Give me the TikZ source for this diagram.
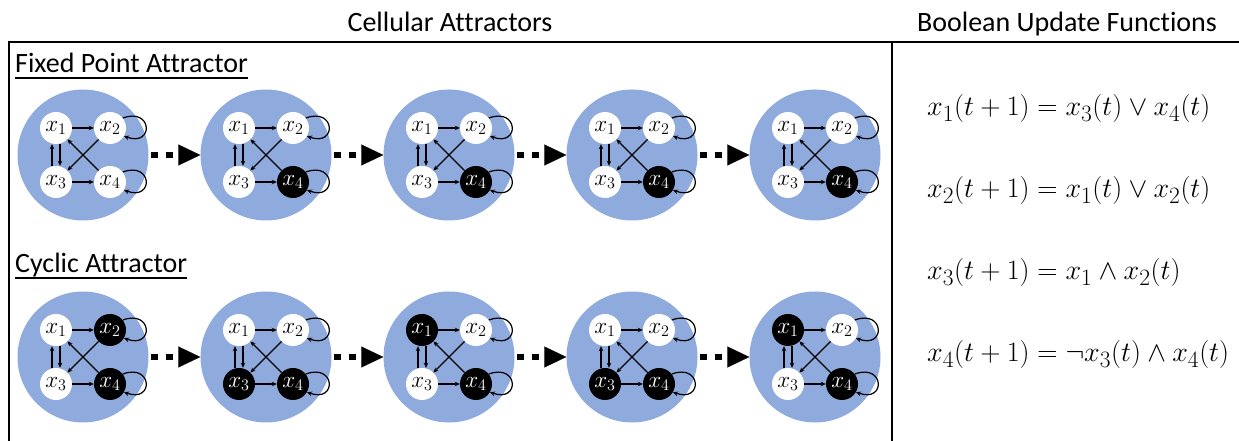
\documentclass[tikz,border=0pt]{standalone}
\usepackage{graphicx}
\usepackage{fontspec}
\setmainfont[Ligatures={NoCommon}]{Carlito}
\usetikzlibrary{arrows.meta}
\definecolor{cellblue}{RGB}{143,170,220}
\newcommand\eqbox[1]{\scalebox{1.13}{$#1$}}
\newcommand\lbl[1]{\scalebox{1.12}{$#1$}}
\newcommand\cellnet[7]{%
 \node[cell] (#1) at (#2,#3) {};
 \node[#4] (#1a) at (#2-27,#3+27) {\lbl{x_1}};
 \node[#5] (#1b) at (#2+27,#3+27) {\lbl{x_2}};
 \node[#6] (#1c) at (#2-27,#3-27) {\lbl{x_3}};
 \node[#7] (#1d) at (#2+27,#3-27) {\lbl{x_4}};
 \draw[arr] (#1a) -- (#1b);
 \draw[arr] (#1c) -- (#1d);
 \draw[arr] ([xshift=-4pt]#1c.north) -- ([xshift=-4pt]#1a.south);
 \draw[arr] ([xshift=4pt]#1a.south) -- ([xshift=4pt]#1c.north);
 \draw[arr] (#1b) -- (#1c);
 \draw[arr] (#1d) -- (#1a);
 \draw[arr] (#1b.38) .. controls +(30,11) and +(30,-11) .. (#1b.-30);
 \draw[arr] (#1d.38) .. controls +(30,11) and +(30,-11) .. (#1d.-30);
}
\begin{document}
\begin{tikzpicture}[x=1pt,y=1pt,
 cell/.style={circle,fill=cellblue,minimum size=131pt,inner sep=0pt},
 wn/.style={circle,fill=white,minimum size=32pt,inner sep=0pt,font=\fontsize{20.74}{22}\selectfont},
 bn/.style={wn,fill=black,text=white},
 arr/.style={line width=1.2pt,-{Stealth[length=5pt,width=4.5pt]}},
 dotarr/.style={line width=6pt,dash pattern=on 0pt off 2pt on 7pt off 8pt on 7pt off 40pt,
   -{Triangle[length=22pt,width=21pt,line width=0.1pt]}},
 frame/.style={line width=2pt},
 title/.style={font=\fontsize{28}{32}\selectfont,inner sep=0pt,anchor=base},
 sub/.style={font=\fontsize{28}{32}\selectfont,inner sep=0pt,anchor=base west},
 eq/.style={font=\fontsize{24.88}{30}\selectfont,inner sep=0pt,anchor=base west},
 uline/.style={line width=1.5pt}]
\useasboundingbox (0,0) rectangle (1239,441);
\draw[frame] (8,399) -- (1239,399);
\draw[frame] (9,399) -- (9,0);
\draw[frame] (892,399) -- (892,0);
\node[title] (t1) at (450,409) {Cellular Attractors};
\node[title] (t2) at (1067,409) {Boolean Update Functions};
\node[sub] (fp) at (15,368) {Fixed Point Attractor};
\draw[uline] ([yshift=-5pt]fp.base west) -- ([yshift=-5pt]fp.base east);
\node[sub] (cy) at (15,168) {Cyclic Attractor};
\draw[uline] ([yshift=-5pt]cy.base west) -- ([yshift=-5pt]cy.base east);
\node[eq] (e1) at (927,325) {\eqbox{x_1(t+1) = x_3(t) \vee x_4(t)}};
\node[eq] (e2) at (927,243) {\eqbox{x_2(t+1) = x_1(t) \vee x_2(t)}};
\node[eq] (e3) at (927,161) {\eqbox{x_3(t+1) = x_1 \wedge x_2(t)}};
\node[eq] (e4) at (927,79) {\eqbox{x_4(t+1) = \neg x_3(t) \wedge x_4(t)}};
\cellnet{f1}{83}{286}{wn}{wn}{wn}{wn}
\cellnet{f2}{266}{286}{wn}{wn}{wn}{bn}
\cellnet{f3}{449}{286}{wn}{wn}{wn}{bn}
\cellnet{f4}{632}{286}{wn}{wn}{wn}{bn}
\cellnet{f5}{815}{286}{wn}{wn}{wn}{bn}
\cellnet{c1}{83}{84}{wn}{bn}{wn}{bn}
\cellnet{c2}{266}{84}{wn}{wn}{bn}{bn}
\cellnet{c3}{449}{84}{bn}{wn}{wn}{bn}
\cellnet{c4}{632}{84}{wn}{wn}{bn}{bn}
\cellnet{c5}{815}{84}{bn}{wn}{wn}{bn}
\draw[dotarr] (f1) -- (f2);
\draw[dotarr] (f2) -- (f3);
\draw[dotarr] (f3) -- (f4);
\draw[dotarr] (f4) -- (f5);
\draw[dotarr] (c1) -- (c2);
\draw[dotarr] (c2) -- (c3);
\draw[dotarr] (c3) -- (c4);
\draw[dotarr] (c4) -- (c5);
\end{tikzpicture}
\end{document}
